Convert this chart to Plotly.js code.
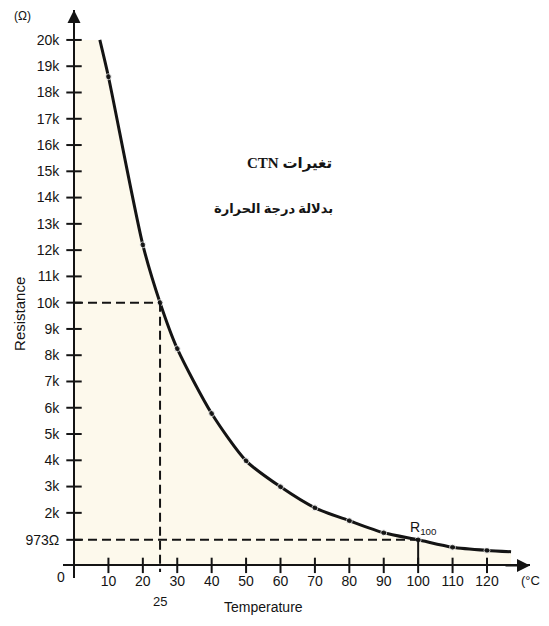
<!DOCTYPE html>
<html>
<head>
<meta charset="utf-8">
<script src="https://cdn.plot.ly/plotly-3.0.1.min.js"></script>
<style>html,body{margin:0;padding:0;background:#fff;}#chart{width:549px;height:626px;}</style>
</head>
<body>
<div id="chart"></div>
<script>
// Temperature (°C) and resistance (Ω)
const temps = [7.5, 10, 20, 25, 30, 40, 50, 60, 70, 80, 90, 100, 110, 120, 127];
const resistance = [20000, 18600, 12200, 10000, 8250, 5780, 3980, 2990, 2190, 1700, 1240, 973, 690, 570, 520];
const hasDot = [false, true, true, true, true, true, true, true, true, true, true, true, true, true, false];

const xTickVals = [10, 20, 30, 40, 50, 60, 70, 80, 90, 100, 110, 120];
const xTickText = ['10', '20', '30', '40', '50', '60', '70', '80', '90', '100', '110', '120'];
const yTickVals = [973, 2000, 3000, 4000, 5000, 6000, 7000, 8000, 9000, 10000, 11000, 12000, 13000, 14000, 15000, 16000, 17000, 18000, 19000, 20000];
const yTickText = ['973Ω', '2k', '3k', '4k', '5k', '6k', '7k', '8k', '9k', '10k', '11k', '12k', '13k', '14k', '15k', '16k', '17k', '18k', '19k', '20k'];

const refTemp = 25, refRes = 10000;      // R25
const r100Temp = 100, r100Res = 973;     // R100

const xRange = [-3.2, 132.5];
const yRange = [-480, 21140];
const ink = '#141414';
const font = 'Liberation Sans, Arial, sans-serif';

const traces = [
  { // shaded area under the curve
    x: [0].concat(temps), y: [resistance[0]].concat(resistance),
    mode: 'lines', fill: 'tozeroy', fillcolor: 'rgb(253,249,236)',
    line: { width: 0, color: 'rgba(0,0,0,0)' }, hoverinfo: 'skip', showlegend: false
  },
  { // x ticks crossing the axis
    x: xTickVals, y: xTickVals.map(() => 0), mode: 'markers', cliponaxis: false,
    marker: { symbol: 'line-ns', size: 11, line: { width: 2, color: ink } },
    hoverinfo: 'skip', showlegend: false
  },
  { // y ticks crossing the axis
    x: yTickVals.map(() => 0), y: yTickVals, mode: 'markers', cliponaxis: false,
    marker: { symbol: 'line-ew', size: 11, line: { width: 2, color: ink } },
    hoverinfo: 'skip', showlegend: false
  },
  { // the CTN curve
    x: temps, y: resistance, mode: 'lines+markers',
    line: { shape: 'spline', smoothing: 0.7, width: 3, color: ink },
    marker: { size: hasDot.map(d => d ? 6 : 0), color: ink },
    showlegend: false
  }
];

const dash = '9px,5px';
const shapes = [
  { type: 'line', xref: 'x', yref: 'y', x0: 0, x1: refTemp, y0: refRes, y1: refRes, line: { color: ink, width: 2, dash: dash } },
  { type: 'line', xref: 'x', yref: 'y', x0: refTemp, x1: refTemp, y0: refRes, y1: -250, line: { color: ink, width: 2, dash: dash } },
  { type: 'line', xref: 'x', yref: 'y', x0: 0, x1: r100Temp, y0: r100Res, y1: r100Res, line: { color: ink, width: 2, dash: dash } },
  { type: 'line', xref: 'x', yref: 'y', x0: r100Temp, x1: r100Temp, y0: 0, y1: r100Res, line: { color: ink, width: 2 } }
];

function label(o) {
  return Object.assign({ showarrow: false, xanchor: 'center', yanchor: 'middle' }, o);
}

const annotations = [
  { xref: 'x', yref: 'y', x: 0, y: yRange[1], ax: 0, ay: 26, text: '', showarrow: true, arrowhead: 2, arrowsize: 1.3, arrowwidth: 2, arrowcolor: ink },
  { xref: 'x', yref: 'y', x: xRange[1], y: 0, ax: -26, ay: 0, text: '', showarrow: true, arrowhead: 2, arrowsize: 1.3, arrowwidth: 2, arrowcolor: ink },
  label({ xref: 'paper', yref: 'paper', x: -0.0857, y: 0.989, text: '(Ω)', font: { family: font, size: 12, color: ink } }),
  label({ xref: 'paper', yref: 'paper', x: -0.004, y: 0.001, text: '0', font: { family: font, size: 14, color: ink } }),
  label({ xref: 'paper', yref: 'paper', x: 1.002, y: -0.005, text: '(°C', font: { family: font, size: 13, color: ink } }),
  label({ xref: 'x', yref: 'paper', x: refTemp, y: -0.0405, text: '25', font: { family: font, size: 13, color: ink } }),
  label({ xref: 'x', yref: 'y', x: 101.5, y: 1430, text: 'R<sub>100</sub>', font: { family: font, size: 14, color: ink } }),
  label({ xref: 'paper', yref: 'paper', x: 0.43, y: -0.051, text: 'Temperature', font: { family: font, size: 14, color: ink } }),
  label({ xref: 'paper', yref: 'paper', x: -0.092, y: 0.465, text: 'Resistance', textangle: -90, font: { family: font, size: 15, color: ink } }),
  label({ xref: 'paper', yref: 'paper', x: 0.486, y: 0.7306, text: '<b>CTN تغيرات</b>', font: { family: 'Liberation Serif, Times New Roman, DejaVu Sans, serif', size: 15, color: ink } }),
  label({ xref: 'paper', yref: 'paper', x: 0.45, y: 0.651, text: '<b>بدلالة درجة الحرارة</b>', font: { family: 'Liberation Serif, DejaVu Sans, serif', size: 13, color: ink } })
];

const layout = {
  width: 549, height: 626,
  margin: { l: 63, r: 19, t: 10, b: 48 },
  paper_bgcolor: '#ffffff', plot_bgcolor: 'rgba(0,0,0,0)',
  showlegend: false,
  xaxis: {
    range: xRange, anchor: 'free', position: (0 - yRange[0]) / (yRange[1] - yRange[0]),
    showgrid: false, zeroline: false, showline: true, linewidth: 2, linecolor: ink,
    tickmode: 'array', tickvals: xTickVals, ticktext: xTickText, ticks: '',
    ticklabelstandoff: 3, tickfont: { family: font, size: 14, color: ink }
  },
  yaxis: {
    range: yRange, anchor: 'free', position: (0 - xRange[0]) / (xRange[1] - xRange[0]),
    showgrid: false, zeroline: false, showline: true, linewidth: 2, linecolor: ink,
    tickmode: 'array', tickvals: yTickVals, ticktext: yTickText, ticks: '',
    ticklabelstandoff: 11, tickfont: { family: font, size: 14, color: ink }
  },
  shapes: shapes,
  annotations: annotations
};

Plotly.newPlot('chart', traces, layout, { displayModeBar: false, staticPlot: true });
</script>
</body>
</html>
